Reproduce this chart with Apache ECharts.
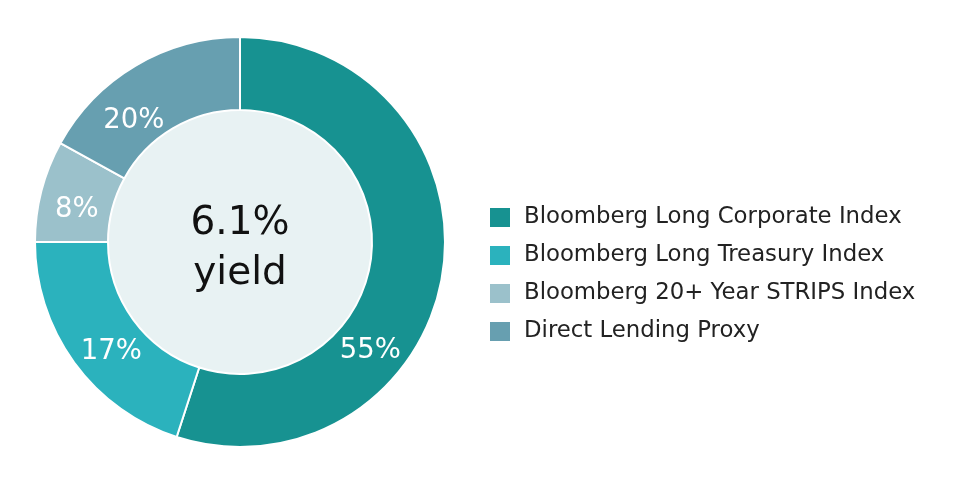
<!DOCTYPE html>
<html>
<head>
<meta charset="utf-8">
<script src="https://cdn.jsdelivr.net/npm/echarts@6/dist/echarts.min.js"></script>
<style>html,body{margin:0;padding:0;background:#fff}#c{width:966px;height:485px}</style>
</head>
<body>
<div id="c"></div>
<script>
const categories = ['Bloomberg Long Corporate Index', 'Bloomberg Long Treasury Index', 'Bloomberg 20+ Year STRIPS Index', 'Direct Lending Proxy'];
// arc sizes as drawn in the reference
const values = [55, 20, 8, 17];
// label texts as printed in the reference
const labelTexts = ['55%', '17%', '8%', '20%'];
const colors = ['#179291', '#2bb2bd', '#9bc1cb', '#679fb0'];
const centerValue = '6.1%';
const centerWord = 'yield';
// label nudges [dx, dy]
const labelShift = [[-39, 82], [10, 9], [3, 11], [-19, 26]];

const FONT = 'DejaVu Sans';
const chart = echarts.init(document.getElementById('c'));
chart.setOption({
  animation: false,
  legend: {
    orient: 'vertical',
    left: 483,
    top: 201,
    itemWidth: 22,
    itemHeight: 21,
    itemGap: 15,
    icon: 'rect',
    data: categories,
    textStyle: { fontFamily: FONT, fontSize: 22.8, color: '#222', padding: [0, 0, 0, 8], lineHeight: 23 }
  },
  series: [
    {
      type: 'pie',
      center: [240, 242],
      radius: [0, 132],
      silent: true,
      z: 1,
      data: [{ value: 1, name: '__center', itemStyle: { color: '#e8f2f3' } }],
      label: {
        show: true,
        position: 'center',
        formatter: () => '{a|' + centerValue + '}\n{b|' + centerWord + '}',
        rich: {
          a: { fontFamily: FONT, fontSize: 39, color: '#111', lineHeight: 50 },
          b: { fontFamily: FONT, fontSize: 39, color: '#111', lineHeight: 50 }
        }
      },
      labelLayout: () => ({ dy: 7 }),
      labelLine: { show: false }
    },
    {
      type: 'pie',
      center: [240, 242],
      radius: [132, 205],
      startAngle: 90,
      clockwise: true,
      z: 2,
      itemStyle: { borderColor: '#fff', borderWidth: 2 },
      label: {
        show: true,
        position: 'inside',
        formatter: (p) => labelTexts[p.dataIndex],
        fontFamily: FONT,
        fontSize: 27.5,
        color: '#fff'
      },
      labelLayout: (p) => ({ dx: labelShift[p.dataIndex][0], dy: labelShift[p.dataIndex][1] }),
      labelLine: { show: false },
      data: categories.map((n, i) => ({
        name: n,
        value: values[i],
        itemStyle: { color: colors[i] }
      }))
    }
  ]
});
</script>
</body>
</html>
